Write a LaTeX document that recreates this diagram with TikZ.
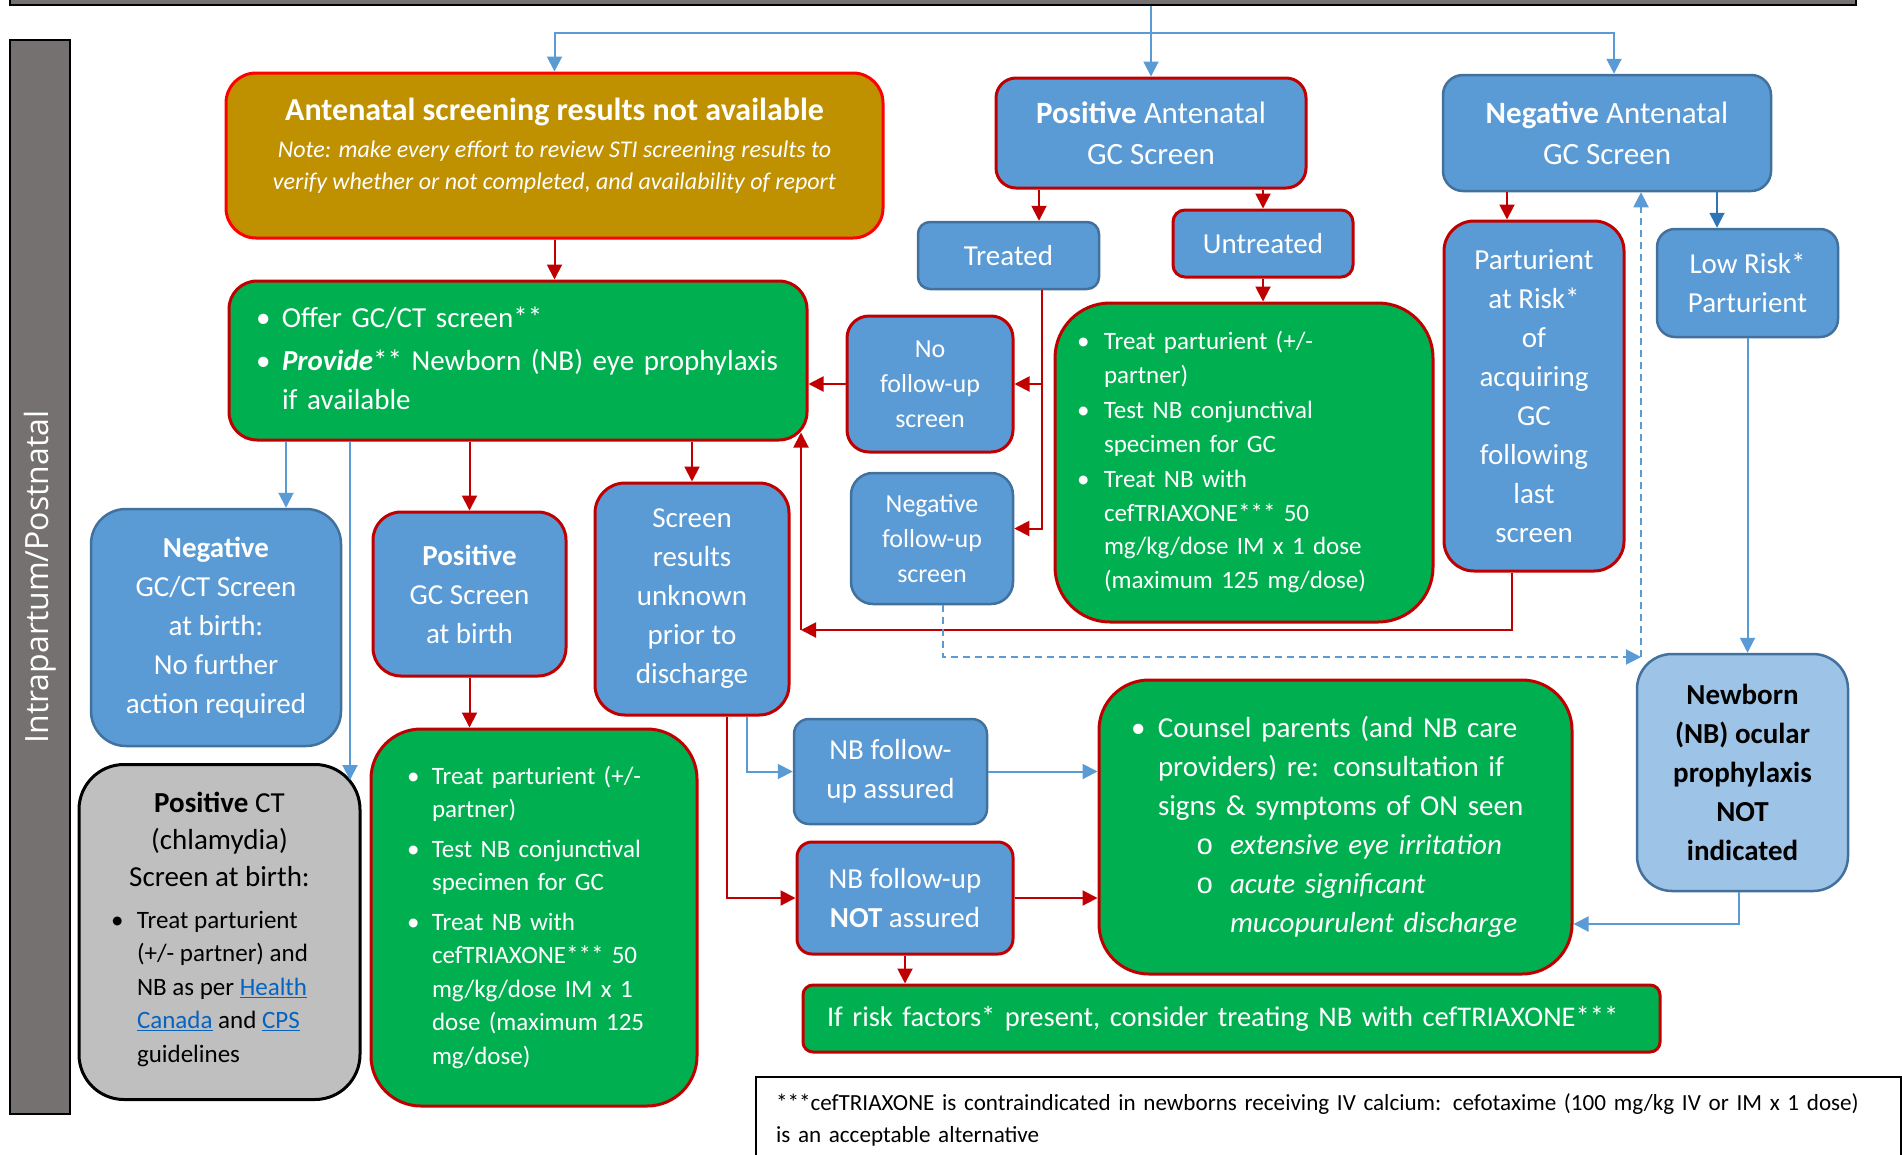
\documentclass[tikz,border=0pt]{standalone}
\usepackage{fontspec}
\setmainfont{Carlito}
\newfontfamily\sidefont{Open Sans}
\newfontfamily\circfont{Liberation Mono}
\usetikzlibrary{arrows.meta,calc}

\definecolor{bfill}{HTML}{5B9BD5}
\definecolor{bline}{HTML}{41719C}
\definecolor{rline}{HTML}{C00000}
\definecolor{gfill}{HTML}{00B050}
\definecolor{gold}{HTML}{BF9000}
\definecolor{barcol}{HTML}{767171}
\definecolor{lblue}{HTML}{9DC3E6}
\definecolor{dblue}{HTML}{2E75B6}
\definecolor{ctgray}{HTML}{BFBFBF}
\definecolor{linkcol}{HTML}{0563C1}

\newcommand{\fbig}{\fontsize{29}{39}\selectfont}
\newcommand{\fhead}{\fontsize{31}{41}\selectfont}
\newcommand{\fmid}{\fontsize{26}{35}\selectfont}
\newcommand{\flist}{\fontsize{25}{33.5}\selectfont}
\newcommand{\fnote}{\fontsize{23.1}{32}\selectfont}
\newcommand{\bl}[1][26pt]{\makebox[#1][l]{\textbullet}}
\newcommand{\lnk}[1]{\textcolor{linkcol}{\underline{#1}}}
\newcommand{\subo}{\hspace*{38pt}\makebox[34pt][l]{\circfont o}}

\tikzset{
  box/.style={rounded corners=#1pt, inner sep=0pt, align=center, text=white, font=\fbig},
  sz/.style 2 args={minimum width=#1pt, minimum height=#2pt},
  blubox/.style={box=#1, draw=bline, line width=2.5pt, fill=bfill},
  redbox/.style={box=#1, draw=rline, line width=3pt, fill=bfill},
  grnbox/.style={box=#1, draw=rline, line width=3pt, fill=gfill},
  rarr/.style={draw=rline, line width=2pt, -{Triangle[length=15pt,width=15pt]}},
  barr/.style={draw=bfill, line width=2pt, -{Triangle[length=15pt,width=15pt]}},
  darr/.style={barr, draw=dblue},
  bdash/.style={barr, dash pattern=on 7pt off 5pt},
}

\begin{document}
\begin{tikzpicture}[x=1pt, y=-1pt]
  \useasboundingbox (0,0) rectangle (1902,1154);
  \fill[white] (0,0) rectangle (1902,1154);
  \clip (0,0) rectangle (1902,1154);

  \node[draw=black, line width=2pt, fill=barcol, sz={1846}{30}, inner sep=0pt] (topbar) at (933,-10) {};
  \node[draw=black, line width=2pt, fill=barcol, sz={1074}{60}, inner sep=0pt, rotate=90,
        text=white, font=\sidefont\fontsize{32}{36}\selectfont] (side) at (40,577) {Intrapartum/Postnatal};

  \node[box=30, draw=red, line width=3pt, fill=gold, sz={657}{165}, font=\fontsize{24}{32}\selectfont] (ante) at (554.5,155.5)
    {\fontsize{32}{37}\selectfont\bfseries Antenatal screening results not available\\[5pt]
     \itshape Note: make every effort to review STI screening results to\\
     \itshape verify whether or not completed, and availability of report\rule[-23pt]{0pt}{0pt}};
  \node[redbox=20, sz={310}{110}, font=\fhead] (posAnte) at (1151,133) {\textbf{Positive} Antenatal\\GC Screen};
  \node[blubox=20, sz={328}{116}, font=\fhead] (negAnte) at (1607,133) {\textbf{Negative} Antenatal\\GC Screen};

  \node[grnbox=28, sz={578}{159}, inner xsep=27pt, text width=524pt, align=left] (offer) at (518,360.5)
    {\begin{tabular}{@{}l@{}l@{}}
     \bl & Offer GC/CT screen**\\[4pt]
     \bl & \textbf{\textit{Provide}}** Newborn (NB) eye prophylaxis\\
         & if available
     \end{tabular}};
  \node[blubox=12, sz={181}{67}] (treated) at (1008.5,255.5) {Treated};
  \node[redbox=12, sz={180}{67}] (untreated) at (1263,243.5) {Untreated};
  \node[redbox=22, sz={166}{136}, font=\fmid] (noFollow) at (930,384) {No\\follow-up\\screen};
  \node[blubox=22, sz={162}{131}, font=\fmid] (negFollow) at (932,538.5) {Negative\\follow-up\\screen};
  \node[grnbox=55, sz={378}{319}, inner xsep=22pt, text width=334pt, align=left, font=\flist] (untreatTx) at (1244,462.5)
    {\begin{tabular}{@{}l@{}l@{}}
     \bl[27pt] & Treat parturient (+/-\\
               & partner)\\[2pt]
     \bl[27pt] & Test NB conjunctival\\
               & specimen for GC\\[2pt]
     \bl[27pt] & Treat NB with\\
               & cefTRIAXONE*** 50\\
               & mg/kg/dose IM x 1 dose\\
               & (maximum 125 mg/dose)
     \end{tabular}};
  \node[redbox=30, sz={180}{350}] (atRisk) at (1534,396)
    {Parturient\\at Risk*\\of\\acquiring\\GC\\following\\last\\screen};
  \node[blubox=18, sz={181}{108}] (lowRisk) at (1747.5,283) {Low Risk*\\Parturient};

  \node[blubox=35, sz={250}{237}] (negBirth) at (216,627.5)
    {\textbf{Negative}\\GC/CT Screen\\at birth:\\No further\\action required};
  \node[redbox=28, sz={193}{164}] (posBirth) at (469.5,594) {\textbf{Positive}\\GC Screen\\at birth};
  \node[redbox=30, sz={194}{232}] (unknown) at (692,599) {Screen\\results\\unknown\\prior to\\discharge};

  \node[box=45, draw=black, line width=3pt, fill=ctgray, text=black, sz={281}{335}, font=\fontsize{29}{37}\selectfont] (posCT) at (219.5,932)
    {\textbf{Positive} CT\\(chlamydia)\\Screen at birth:\\[5pt]
     \hspace*{-20pt}\flist\begin{tabular}[t]{@{}l@{}l@{}}
     \bl & Treat parturient\\
         & (+/- partner) and\\
         & NB as per \lnk{Health}\\
         & \lnk{Canada} and \lnk{CPS}\\
         & guidelines
     \end{tabular}};
  \node[grnbox=50, sz={326}{377}, inner xsep=36pt, text width=254pt, align=left, font=\flist] (posBirthTx) at (534,917.5)
    {\begin{tabular}{@{}l@{}l@{}}
     \bl[25pt] & Treat parturient (+/-\\
               & partner)\\[6pt]
     \bl[25pt] & Test NB conjunctival\\
               & specimen for GC\\[6pt]
     \bl[25pt] & Treat NB with\\
               & cefTRIAXONE*** 50\\
               & mg/kg/dose IM x 1\\
               & dose (maximum 125\\
               & mg/dose)
     \end{tabular}};

  \node[blubox=15, sz={193}{105}] (fuAssured) at (890.5,771.5) {NB follow-\\up assured};
  \node[redbox=15, sz={216}{112}] (fuNot) at (905,898) {NB follow-up\\\textbf{NOT} assured};
  \node[grnbox=50, sz={473}{294}, inner xsep=32pt, text width=409pt, align=left] (counsel) at (1335.5,827)
    {\begin{tabular}{@{}l@{}l@{}}
     \bl[27pt] & Counsel parents (and NB care\\
               & providers) re: consultation if\\
               & signs \& symptoms of ON seen\\
               & \subo\textit{extensive eye irritation}\\
               & \subo\textit{acute significant}\\
               & \hspace*{72pt}\textit{mucopurulent discharge}
     \end{tabular}};
  \node[box=35, draw=bline, line width=2.5pt, fill=lblue, text=black, sz={211}{237}, font=\fbig\bfseries] (newborn) at (1742.5,772.5)
    {Newborn\\(NB) ocular\\prophylaxis\\NOT\\indicated};
  \node[grnbox=10, sz={857}{67}, inner xsep=24pt, text width=809pt, align=left, font=\fontsize{28.5}{36}\selectfont] (riskTx) at (1231.5,1018.5)
    {\mbox{If risk factors* present, consider treating NB with cefTRIAXONE***}};
  \node[draw=black, line width=2pt, fill=white, anchor=north west, sz={1145}{86}, inner xsep=20pt, inner ysep=0pt,
        text width=1105pt, align=left, font=\fnote] (footnote) at (755,1076)
    {\mbox{***cefTRIAXONE is contraindicated in newborns receiving IV calcium: cefotaxime (100 mg/kg IV or IM x 1 dose)}\\
     is an acceptable alternative};

  \coordinate (fork) at (1151,33);
  \coordinate (riskTurn) at (801,630);
  \coordinate (dashTurn) at (1641,657);

  \draw[barr] (topbar.south -| posAnte.north) -- (posAnte.north);
  \draw[barr] (fork) -| (ante.north);
  \draw[barr] (fork) -| ([xshift=7pt]negAnte.north);
  \draw[rarr] (ante.south) -- (ante.south |- offer.north);
  \draw[rarr] ([xshift=-112pt]posAnte.south) -- ([xshift=-112pt]posAnte.south |- treated.north);
  \draw[rarr] (untreated.north |- posAnte.south) -- (untreated.north);
  \draw[rarr] (untreated.south) -- (untreated.south |- untreatTx.north);
  \draw[rarr] ([xshift=33.5pt]treated.south) |- (noFollow.east);
  \draw[rarr] ([xshift=33.5pt]treated.south) |- ([yshift=10pt]negFollow.east);
  \draw[rarr] (noFollow.west) -- (noFollow.west -| offer.east);
  \draw[rarr] ([xshift=-22pt]atRisk.south) |- (riskTurn);
  \draw[rarr] (riskTurn) -- ($(riskTurn |- offer.south)+(0,-9)$);
  \draw[bdash] ([xshift=11pt]negFollow.south) |- (dashTurn);
  \draw[bdash] (dashTurn) -- (dashTurn |- negAnte.south);
  \draw[rarr] ([xshift=-100pt]negAnte.south) -- ([xshift=-27pt]atRisk.north);
  \draw[darr] ([xshift=110pt]negAnte.south) -- ([xshift=-30.5pt]lowRisk.north);
  \draw[barr] (lowRisk.south) -- (lowRisk.south |- newborn.north);
  \draw[barr] ([xshift=70pt]negBirth.north |- offer.south) -- ([xshift=70pt]negBirth.north);
  \draw[barr] ([xshift=130.5pt]posCT.north |- offer.south) -- ($(posCT.north)+(130.5,17)$);
  \draw[rarr] (posBirth.north |- offer.south) -- (posBirth.north);
  \draw[rarr] (unknown.north |- offer.south) -- (unknown.north);
  \draw[rarr] (posBirth.south) -- (posBirth.south |- posBirthTx.north);
  \draw[barr] ([xshift=55pt]unknown.south) |- (fuAssured.west);
  \draw[rarr] ([xshift=35pt]unknown.south) |- (fuNot.west);
  \draw[barr] (fuAssured.east) -- (fuAssured.east -| counsel.west);
  \draw[rarr] (fuNot.east) -- (fuNot.east -| counsel.west);
  \draw[rarr] (fuNot.south) -- (fuNot.south |- riskTx.north);
  \draw[barr] ([xshift=-3.5pt]newborn.south) |- ([yshift=-97pt]counsel.east);
\end{tikzpicture}
\end{document}
